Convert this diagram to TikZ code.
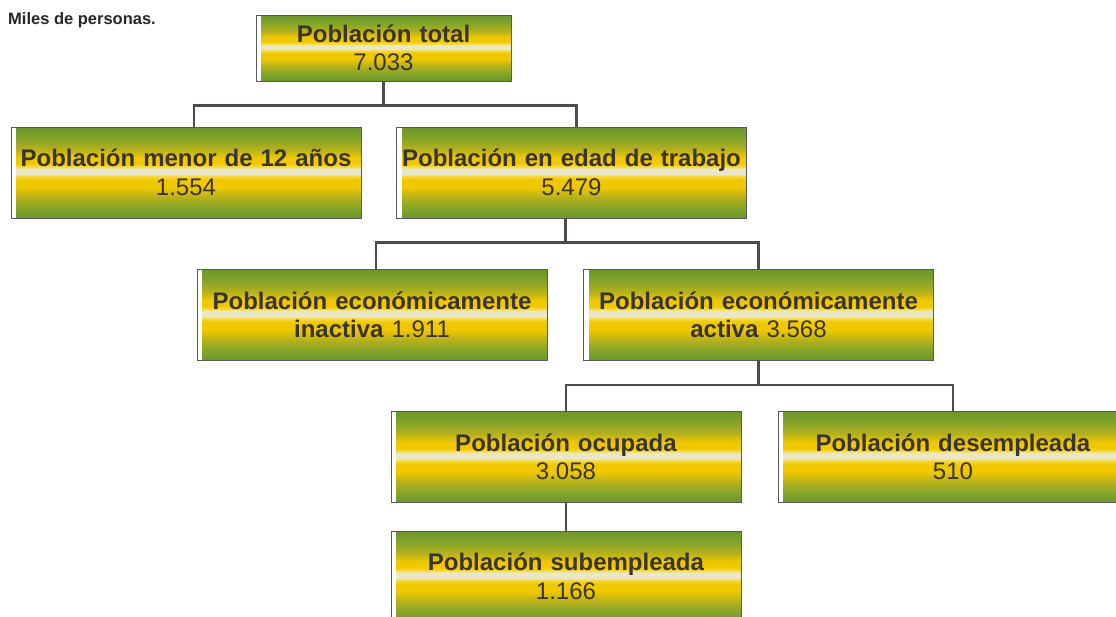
\documentclass[tikz,border=0pt]{standalone}
\usepackage{fontspec}
\setmainfont{Liberation Sans}
\usetikzlibrary{calc}

\definecolor{verdeA}{HTML}{6B962C}
\definecolor{verdeC}{HTML}{82A42A}
\definecolor{oliva}{HTML}{B4B01C}
\definecolor{oro}{HTML}{F0C800}
\definecolor{oroclaro}{HTML}{F8DC48}
\definecolor{crema}{HTML}{E9E7C6}
\definecolor{textogris}{HTML}{3A3431}
\definecolor{lineagris}{HTML}{4E4B4A}

\pgfdeclareverticalshading{franjas}{100bp}{color(0bp)=(verdeA); color(25bp)=(verdeA);
  color(30bp)=(verdeC); color(36bp)=(oliva); color(42bp)=(oro); color(46bp)=(oro);
  color(48.25bp)=(oroclaro); color(49bp)=(crema); color(52.25bp)=(crema); color(53bp)=(oroclaro);
  color(55bp)=(oro); color(58bp)=(oro); color(63bp)=(oliva); color(69bp)=(verdeC);
  color(75bp)=(verdeA); color(100bp)=(verdeA)}

\tikzset{
  caja/.style={rectangle, draw=black!65, line width=0.9pt, shading=franjas,
    minimum width=350pt, minimum height=91pt, text width=340pt, align=center,
    inner sep=0pt, text=textogris, font=\fontsize{24}{28.5}\selectfont,
    path picture={\fill[white] (path picture bounding box.south west) rectangle
      ([xshift=5pt]path picture bounding box.north west);}},
  conector/.style={draw=lineagris, line width=2.2pt}
}

\begin{document}
\begin{tikzpicture}[x=1pt,y=-1pt]
  \clip (0,0) rectangle (1116,616);

  \node[anchor=base west, inner sep=0pt, font=\fontsize{16.5}{19}\selectfont\bfseries, text=black!85] (nota) at (8,24) {Miles de personas.};

  % cajas
  \node[caja, minimum width=255pt, minimum height=66pt, text width=250pt] (total) at (383.5,48)
    {\textbf{Población total}\\7.033};
  \node[caja] (menor) at (186,172.5) {\textbf{Población menor de 12 años}\\1.554};
  \node[caja] (edad) at (571.5,172.5) {\textbf{Población en edad de trabajo}\\5.479};
  \node[caja] (inactiva) at (372,315) {\textbf{Población económicamente}\\\textbf{inactiva} 1.911};
  \node[caja] (activa) at (758.5,315) {\textbf{Población económicamente}\\\textbf{activa} 3.568};
  \node[caja] (ocupada) at (566,457) {\textbf{Población ocupada}\\3.058};
  \node[caja] (desempleada) at (953,457) {\textbf{Población desempleada}\\510};
  \node[caja] (subempleada) at (566,576.5) {\textbf{Población subempleada}\\1.166};

  % conectores
  \draw[conector] (total.south) -- ++(0,24) coordinate (b1);
  \draw[conector] ([xshift=8pt]menor.north) |- (b1) -| ([xshift=5pt]edad.north);
  \draw[conector] ([xshift=-6pt]edad.south) -- ++(0,24) coordinate (b2);
  \draw[conector] ([xshift=4pt]inactiva.north) |- (b2) -| (activa.north);
  \draw[conector] (activa.south) -- ++(0,24) coordinate (b3);
  \draw[conector] (ocupada.north) |- (b3) -| (desempleada.north);
  \draw[conector] (ocupada.south) -- (subempleada.north);
\end{tikzpicture}
\end{document}
